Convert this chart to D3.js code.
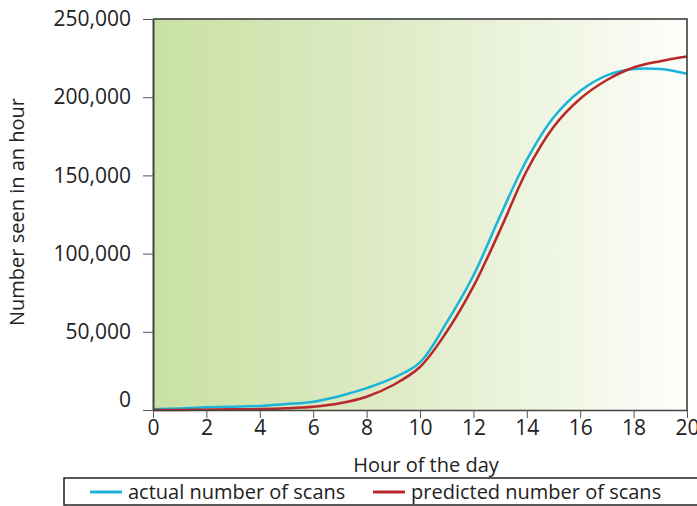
<!DOCTYPE html>
<html>
<head>
<meta charset="utf-8">
<script src="https://cdn.jsdelivr.net/npm/d3@7"></script>
<style>
  body { margin: 0; background: #fff; }
  svg text { font-family: "Open Sans", sans-serif; fill: #222; }
</style>
</head>
<body>
<svg id="chart" width="697" height="506"></svg>
<script>
// hours of the day
let hours = [0, 1, 2, 3, 4, 5, 6, 7, 8, 9, 10, 11, 12, 13, 14, 15, 16, 17, 18, 19, 20];
// number of scans seen in each hour
let actual = [500, 1000, 1700, 2100, 2600, 3800, 5300, 9000, 14000, 20500, 30500,
              56000, 86000, 124000, 160000, 187000, 204000, 214000, 218000, 218000, 215000];
let predicted = [0, 0, 200, 400, 600, 1100, 2100, 4300, 8500, 16000, 27500,
                 50000, 79000, 115000, 153000, 181000, 199000, 211000, 219000, 223000, 226000];
let xTicks = [0, 2, 4, 6, 8, 10, 12, 14, 16, 18, 20];
let yTicks = [0, 50000, 100000, 150000, 200000, 250000];
let seriesNames = ["actual number of scans", "predicted number of scans"];
let seriesColors = ["#1ab4da", "#b8282a"];

let svg = d3.select("#chart");
let plotLeft = 153, plotRight = 687, plotTop = 19, plotBottom = 410;

let x = d3.scaleLinear().domain([0, 20]).range([plotLeft, plotRight]);
let y = d3.scaleLinear().domain([0, 250000]).range([plotBottom, plotTop]);

// background gradient
let defs = svg.append("defs");
let grad = defs.append("linearGradient").attr("id", "bg")
	.attr("x1", "0%").attr("x2", "100%").attr("y1", "0%").attr("y2", "0%");
grad.append("stop").attr("offset", "0%").attr("stop-color", "#c8e1a3");
grad.append("stop").attr("offset", "45%").attr("stop-color", "#dfebc7");
grad.append("stop").attr("offset", "100%").attr("stop-color", "#fdfefb");

svg.append("rect")
	.attr("x", plotLeft).attr("y", plotTop)
	.attr("width", plotRight - plotLeft).attr("height", plotBottom - plotTop)
	.attr("fill", "url(#bg)");

// lines
let line = d3.line().curve(d3.curveCatmullRom.alpha(0.5));
let series = [actual, predicted];
series.forEach(function(vals, i) {
	svg.append("path")
		.attr("d", line(hours.map(function(h, j) { return [x(h), y(vals[j])]; })))
		.attr("fill", "none")
		.attr("stroke", seriesColors[i])
		.attr("stroke-width", 2.5);
});

// frame (top and right)
svg.append("path")
	.attr("d", "M" + plotLeft + "," + plotTop + "H" + plotRight + "V" + plotBottom)
	.attr("fill", "none").attr("stroke", "#333").attr("stroke-width", 1.5);

// x axis
let xAxis = svg.append("g")
	.attr("transform", "translate(0," + plotBottom + ")")
	.call(d3.axisBottom(x).tickValues(xTicks).tickSize(8).tickSizeOuter(0).tickPadding(2));
xAxis.select(".domain").attr("stroke", "#444").attr("stroke-width", 1.5);
xAxis.selectAll(".tick line").attr("stroke", "#555");
xAxis.selectAll("text").style("font-size", "21px").attr("fill", "#222");

// y axis
let yAxis = svg.append("g")
	.attr("transform", "translate(" + plotLeft + ",0)")
	.call(d3.axisLeft(y).tickValues(yTicks).tickSize(10).tickSizeOuter(0).tickPadding(12)
		.tickFormat(d3.format(",")));
yAxis.select(".domain").attr("stroke", "#444").attr("stroke-width", 2);
yAxis.selectAll(".tick line").attr("stroke", "#555");
yAxis.selectAll("text").style("font-size", "21px").attr("fill", "#222")
	.attr("dy", function(d) { return d === 0 ? "-0.15em" : "0.32em"; });

// axis titles
svg.append("text")
	.attr("x", 426).attr("y", 472)
	.attr("text-anchor", "middle")
	.style("font-size", "20px")
	.text("Hour of the day");

svg.append("text")
	.attr("transform", "translate(24,212) rotate(-90)")
	.attr("text-anchor", "middle")
	.style("font-size", "20px")
	.text("Number seen in an hour");

// legend box
svg.append("path")
	.attr("d", "M700,478H64V505H700")
	.attr("fill", "none").attr("stroke", "#222").attr("stroke-width", 1.5);

let legendX = [90, 373];
seriesNames.forEach(function(name, i) {
	svg.append("line")
		.attr("x1", legendX[i]).attr("x2", legendX[i] + 32)
		.attr("y1", 492).attr("y2", 492)
		.attr("stroke", seriesColors[i]).attr("stroke-width", 3);
	svg.append("text")
		.attr("x", legendX[i] + 38).attr("y", 499)
		.style("font-size", "20px")
		.text(name);
});
</script>
</body>
</html>
